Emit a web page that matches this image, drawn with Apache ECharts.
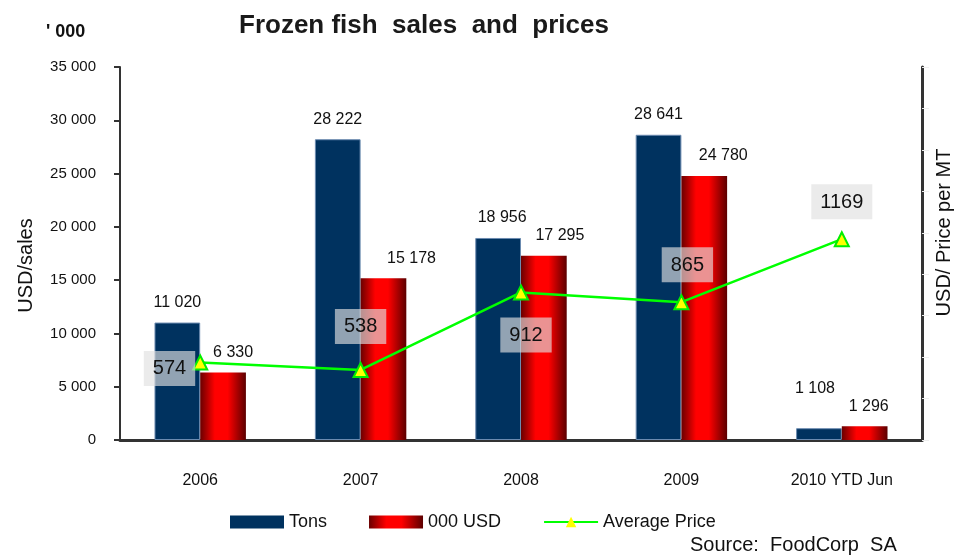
<!DOCTYPE html>
<html>
<head>
<meta charset="utf-8">
<script src="https://cdn.jsdelivr.net/npm/echarts@6/dist/echarts.min.js"></script>
<style>
  html, body { margin: 0; padding: 0; background: #fff; }
  #main { width: 962px; height: 557px; }
</style>
</head>
<body>
<div id="main"></div>
<script>
// 数据
const years = ['2006', '2007', '2008', '2009', '2010 YTD Jun'];
const tons = [11020, 28222, 18956, 28641, 1108];
const usd = [6330, 15178, 17295, 24780, 1296];
const avgPrice = [574, 538, 912, 865, 1169];

const FONT = '"Liberation Sans", Arial, sans-serif';

// 千位用空格分隔
const fmt = n => String(n).replace(/\B(?=(\d{3})+(?!\d))/g, ' ');

// 标签位置微调（样式）
const tonsLabelOffset = [[0, 0], [0, 0], [4, 0], [0, 0], [-4, -20]];
const usdLabelOffset = [[10, 0], [28, 0], [16, 0], [19, 0], [4, 0]];
const priceLabel = [
  { position: 'left', distance: -3, offset: [0, 6] },
  { position: 'top', distance: 18, offset: [0, 0] },
  { position: 'bottom', distance: 17, offset: [5, 0] },
  { position: 'top', distance: 12, offset: [6, 0] },
  { position: 'top', distance: 12, offset: [0, 0] }
];

const redGradient = new echarts.graphic.LinearGradient(0, 0, 1, 0, [
  { offset: 0, color: '#6a0000' },
  { offset: 0.32, color: '#ff0000' },
  { offset: 0.6, color: '#ff0000' },
  { offset: 1, color: '#5c0000' }
]);

const barLabel = {
  show: true, position: 'top', distance: 12,
  fontSize: 16, color: '#111', fontFamily: FONT,
  formatter: p => fmt(p.value)
};

const chart = echarts.init(document.getElementById('main'));

chart.setOption({
  animation: false,
  textStyle: { fontFamily: FONT },
  title: {
    text: 'Frozen fish  sales  and  prices',
    left: 234,
    top: 8,
    textStyle: { fontFamily: FONT, fontSize: 26, fontWeight: 'bold', color: '#1a1a1a' }
  },
  grid: { left: 120, right: 35, top: 67, bottom: 117 },
  legend: {
    left: 225,
    top: 508,
    itemWidth: 54,
    itemHeight: 13,
    itemGap: 42,
    itemStyle: { borderWidth: 0 },
    textStyle: { fontFamily: FONT, fontSize: 18, color: '#111' },
    data: [
      { name: 'Tons', icon: 'rect' },
      { name: '000 USD', icon: 'rect' },
      { name: 'Average Price' }
    ]
  },
  xAxis: {
    type: 'category',
    data: years,
    axisLine: { lineStyle: { color: '#333', width: 3 } },
    axisTick: { length: 6, lineStyle: { color: '#333', width: 2 } },
    axisLabel: { margin: 33, fontSize: 16, color: '#111', fontFamily: FONT }
  },
  yAxis: [
    {
      type: 'value',
      min: 0,
      max: 35000,
      interval: 5000,
      name: 'USD/sales',
      nameLocation: 'middle',
      nameGap: 84,
      nameTextStyle: { fontFamily: FONT, fontSize: 20, color: '#111', padding: [0, 24, 0, 0] },
      axisLine: { show: true, lineStyle: { color: '#333', width: 2 } },
      axisTick: { show: true, length: 6, lineStyle: { color: '#333', width: 2 } },
      axisLabel: { margin: 24, fontSize: 15, color: '#111', fontFamily: FONT, formatter: v => fmt(v) },
      splitLine: { show: false }
    },
    {
      type: 'value',
      min: 200,
      max: 2000,
      interval: 200,
      position: 'right',
      name: 'USD/ Price per MT',
      nameLocation: 'middle',
      nameGap: 12,
      nameTextStyle: { fontFamily: FONT, fontSize: 20, color: '#111', padding: [0, 0, 0, 42] },
      axisLine: { show: true, lineStyle: { color: '#333', width: 3 } },
      axisTick: { show: true, length: 7, lineStyle: { color: '#eee', width: 1 } },
      axisLabel: { show: false },
      splitLine: { show: false }
    }
  ],
  series: [
    {
      name: 'Tons',
      type: 'bar',
      barGap: '0%',
      barCategoryGap: '43%',
      data: tons.map((v, i) => ({ value: v, label: { offset: tonsLabelOffset[i] } })),
      itemStyle: { color: '#00325f', borderColor: '#6b8bb0', borderWidth: 1 },
      label: barLabel
    },
    {
      name: '000 USD',
      type: 'bar',
      data: usd.map((v, i) => ({ value: v, label: { offset: usdLabelOffset[i] } })),
      itemStyle: { color: redGradient },
      label: barLabel
    },
    {
      name: 'Average Price',
      type: 'line',
      yAxisIndex: 1,
      symbol: 'triangle',
      symbolSize: 14,
      data: avgPrice.map((v, i) => ({ value: v, label: priceLabel[i] })),
      lineStyle: { color: '#00ff00', width: 2.5 },
      itemStyle: { color: '#ffff00', borderColor: '#00ee00', borderWidth: 2 },
      label: {
        show: true,
        fontSize: 20,
        color: '#111',
        fontFamily: FONT,
        backgroundColor: 'rgba(225,225,225,0.65)',
        padding: [8, 9, 7, 9]
      },
      z: 5
    }
  ],
  graphic: [
    {
      type: 'text',
      left: 46,
      top: 23,
      style: { text: "' 000", font: 'bold 18px ' + FONT, fill: '#111' }
    },
    {
      type: 'text',
      left: 690,
      top: 535,
      style: { text: 'Source:  FoodCorp  SA', font: '20px ' + FONT, fill: '#111' }
    }
  ]
});
</script>
</body>
</html>
